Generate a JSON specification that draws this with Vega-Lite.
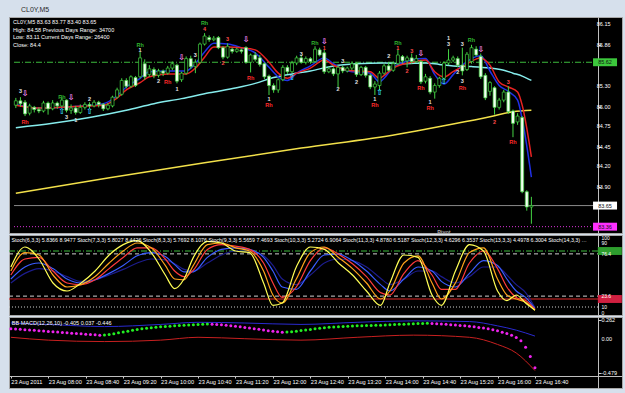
{
"$schema":"https://vega.github.io/schema/vega-lite/v6.json",
"background":"#d6e0ec",
"padding":{"left":7,"top":5,"right":5,"bottom":5},
"title":{"text":"CL0Y,M5","anchor":"start","fontSize":7,"font":"Liberation Sans","fontWeight":"normal","color":"#2a2a2a","dx":13,"offset":4},
"spacing":2,
"bounds":"flush",
"config":{"view":{"stroke":"#a8a8a8","strokeWidth":1,"fill":"#000000"},"axis":{"grid":false,"labelFont":"Liberation Sans","labelColor":"#ffffff","labelFontSize":5.5,"tickColor":"#cfcfcf","domainColor":"#bfbfbf","tickSize":3,"labelPadding":2,"labelOverlap":false},"title":{"font":"Liberation Sans","fontWeight":"normal"}},
"datasets":{
"c":[
{"t":"07:20","o":85.03,"h":85.13,"l":84.99,"c":85.09},{"t":"07:25","o":85.09,"h":85.14,"l":85.01,"c":85.05},{"t":"07:30","o":85.07,"h":85.10,"l":84.88,"c":84.91},{"t":"07:35","o":84.92,"h":85.05,"l":84.89,"c":85.02},{"t":"07:40","o":85.00,"h":85.02,"l":84.93,"c":84.97},{"t":"07:45","o":84.97,"h":85.00,"l":84.92,"c":84.95},{"t":"07:50","o":84.95,"h":85.09,"l":84.93,"c":85.06},{"t":"07:55","o":85.06,"h":85.08,"l":84.90,"c":84.98},{"t":"08:00","o":84.98,"h":85.10,"l":84.96,"c":85.06},{"t":"08:05","o":85.06,"h":85.08,"l":84.98,"c":85.02},
{"t":"08:10","o":85.02,"h":85.14,"l":85.00,"c":85.10},{"t":"08:15","o":85.10,"h":85.11,"l":84.93,"c":84.96},{"t":"08:20","o":84.96,"h":85.04,"l":84.91,"c":84.99},{"t":"08:25","o":84.99,"h":85.02,"l":84.90,"c":84.93},{"t":"08:30","o":84.93,"h":85.04,"l":84.91,"c":85.00},{"t":"08:35","o":85.00,"h":85.07,"l":84.97,"c":85.04},{"t":"08:40","o":85.04,"h":85.07,"l":84.99,"c":85.02},{"t":"08:45","o":85.02,"h":85.10,"l":85.00,"c":85.07},{"t":"08:50","o":85.07,"h":85.09,"l":85.00,"c":85.04},{"t":"08:55","o":85.04,"h":85.06,"l":84.95,"c":84.98},
{"t":"09:00","o":84.98,"h":85.06,"l":84.96,"c":85.03},{"t":"09:05","o":85.02,"h":85.16,"l":85.00,"c":85.14},{"t":"09:10","o":85.14,"h":85.27,"l":85.12,"c":85.24},{"t":"09:15","o":85.18,"h":85.40,"l":85.16,"c":85.37},{"t":"09:20","o":85.37,"h":85.40,"l":85.26,"c":85.29},{"t":"09:25","o":85.29,"h":85.44,"l":85.27,"c":85.42},{"t":"09:30","o":85.41,"h":85.43,"l":85.28,"c":85.30},{"t":"09:35","o":85.42,"h":85.76,"l":85.40,"c":85.68},{"t":"09:40","o":85.60,"h":85.66,"l":85.38,"c":85.42},{"t":"09:45","o":85.45,"h":85.58,"l":85.42,"c":85.53},
{"t":"09:50","o":85.52,"h":85.55,"l":85.40,"c":85.44},{"t":"09:55","o":85.44,"h":85.53,"l":85.41,"c":85.50},{"t":"10:00","o":85.50,"h":85.52,"l":85.43,"c":85.47},{"t":"10:05","o":85.47,"h":85.57,"l":85.45,"c":85.54},{"t":"10:10","o":85.54,"h":85.63,"l":85.51,"c":85.60},{"t":"10:15","o":85.58,"h":85.60,"l":85.33,"c":85.36},{"t":"10:20","o":85.38,"h":85.49,"l":85.35,"c":85.47},{"t":"10:25","o":85.47,"h":85.70,"l":85.45,"c":85.67},{"t":"10:30","o":85.67,"h":85.71,"l":85.53,"c":85.56},{"t":"10:35","o":85.56,"h":85.66,"l":85.47,"c":85.62},
{"t":"10:40","o":85.62,"h":85.89,"l":85.60,"c":85.87},{"t":"10:45","o":85.87,"h":86.02,"l":85.85,"c":85.98},{"t":"10:50","o":85.96,"h":85.99,"l":85.90,"c":85.93},{"t":"10:55","o":85.93,"h":85.98,"l":85.91,"c":85.95},{"t":"11:00","o":85.96,"h":85.98,"l":85.80,"c":85.82},{"t":"11:05","o":85.82,"h":85.84,"l":85.66,"c":85.69},{"t":"11:10","o":85.69,"h":85.88,"l":85.67,"c":85.84},{"t":"11:15","o":85.80,"h":85.82,"l":85.74,"c":85.77},{"t":"11:20","o":85.77,"h":85.82,"l":85.75,"c":85.80},{"t":"11:25","o":85.79,"h":85.81,"l":85.74,"c":85.77},
{"t":"11:30","o":85.82,"h":85.84,"l":85.60,"c":85.62},{"t":"11:35","o":85.62,"h":85.74,"l":85.48,"c":85.72},{"t":"11:40","o":85.72,"h":85.76,"l":85.63,"c":85.66},{"t":"11:45","o":85.68,"h":85.72,"l":85.56,"c":85.59},{"t":"11:50","o":85.60,"h":85.62,"l":85.39,"c":85.42},{"t":"11:55","o":85.43,"h":85.45,"l":85.17,"c":85.30},{"t":"12:00","o":85.30,"h":85.33,"l":85.20,"c":85.24},{"t":"12:05","o":85.24,"h":85.40,"l":85.20,"c":85.38},{"t":"12:10","o":85.38,"h":85.58,"l":85.36,"c":85.55},{"t":"12:15","o":85.55,"h":85.58,"l":85.46,"c":85.49},
{"t":"12:20","o":85.49,"h":85.64,"l":85.47,"c":85.61},{"t":"12:25","o":85.61,"h":85.71,"l":85.58,"c":85.68},{"t":"12:30","o":85.68,"h":85.72,"l":85.60,"c":85.62},{"t":"12:35","o":85.62,"h":85.70,"l":85.59,"c":85.67},{"t":"12:40","o":85.67,"h":85.69,"l":85.60,"c":85.63},{"t":"12:45","o":85.63,"h":85.84,"l":85.61,"c":85.80},{"t":"12:50","o":85.79,"h":85.82,"l":85.70,"c":85.72},{"t":"12:55","o":85.75,"h":85.79,"l":85.46,"c":85.49},{"t":"13:00","o":85.49,"h":85.56,"l":85.47,"c":85.53},{"t":"13:05","o":85.53,"h":85.55,"l":85.43,"c":85.46},
{"t":"13:10","o":85.46,"h":85.58,"l":85.28,"c":85.55},{"t":"13:15","o":85.55,"h":85.57,"l":85.47,"c":85.50},{"t":"13:20","o":85.50,"h":85.56,"l":85.48,"c":85.54},{"t":"13:25","o":85.54,"h":85.63,"l":85.51,"c":85.60},{"t":"13:30","o":85.60,"h":85.62,"l":85.42,"c":85.45},{"t":"13:35","o":85.45,"h":85.57,"l":85.43,"c":85.55},{"t":"13:40","o":85.55,"h":85.57,"l":85.41,"c":85.44},{"t":"13:45","o":85.44,"h":85.46,"l":85.25,"c":85.28},{"t":"13:50","o":85.28,"h":85.36,"l":85.17,"c":85.32},{"t":"13:55","o":85.30,"h":85.50,"l":85.23,"c":85.47},
{"t":"14:00","o":85.47,"h":85.60,"l":85.45,"c":85.57},{"t":"14:05","o":85.57,"h":85.62,"l":85.49,"c":85.51},{"t":"14:10","o":85.51,"h":85.63,"l":85.49,"c":85.60},{"t":"14:15","o":85.60,"h":85.80,"l":85.58,"c":85.72},{"t":"14:20","o":85.70,"h":85.72,"l":85.61,"c":85.64},{"t":"14:25","o":85.64,"h":85.71,"l":85.55,"c":85.68},{"t":"14:30","o":85.68,"h":85.74,"l":85.60,"c":85.63},{"t":"14:35","o":85.63,"h":85.72,"l":85.61,"c":85.67},{"t":"14:40","o":85.63,"h":85.65,"l":85.32,"c":85.35},{"t":"14:45","o":85.36,"h":85.46,"l":85.33,"c":85.42},
{"t":"14:50","o":85.40,"h":85.43,"l":85.18,"c":85.21},{"t":"14:55","o":85.21,"h":85.33,"l":85.12,"c":85.30},{"t":"15:00","o":85.30,"h":85.42,"l":85.27,"c":85.40},{"t":"15:05","o":85.40,"h":85.63,"l":85.38,"c":85.61},{"t":"15:10","o":85.61,"h":85.80,"l":85.58,"c":85.65},{"t":"15:15","o":85.65,"h":85.71,"l":85.62,"c":85.68},{"t":"15:20","o":85.67,"h":85.70,"l":85.55,"c":85.58},{"t":"15:25","o":85.58,"h":85.82,"l":85.44,"c":85.50},{"t":"15:30","o":85.52,"h":85.76,"l":85.50,"c":85.73},{"t":"15:35","o":85.63,"h":85.86,"l":85.60,"c":85.82},
{"t":"15:40","o":85.80,"h":85.84,"l":85.70,"c":85.72},{"t":"15:45","o":85.70,"h":85.74,"l":85.39,"c":85.42},{"t":"15:50","o":85.44,"h":85.47,"l":85.10,"c":85.13},{"t":"15:55","o":85.22,"h":85.36,"l":85.16,"c":85.34},{"t":"16:00","o":85.27,"h":85.29,"l":84.90,"c":85.00},{"t":"16:05","o":85.00,"h":85.13,"l":84.97,"c":85.10},{"t":"16:10","o":85.10,"h":85.24,"l":85.07,"c":85.21},{"t":"16:15","o":85.21,"h":85.29,"l":84.91,"c":84.94},{"t":"16:20","o":84.95,"h":84.97,"l":84.59,"c":84.78},{"t":"16:25","o":84.80,"h":84.92,"l":84.76,"c":84.88},
{"t":"16:30","o":84.86,"h":84.88,"l":83.82,"c":83.84},{"t":"16:35","o":83.84,"h":83.86,"l":83.58,"c":83.63},{"t":"16:40","o":83.63,"h":83.77,"l":83.40,"c":83.65}
],
"cy":[{"t":"07:20","p":84.72},{"t":"08:00","p":84.78},{"t":"08:40","p":84.86},{"t":"09:20","p":84.96},{"t":"09:50","p":85.05},{"t":"10:20","p":85.12},{"t":"10:50","p":85.20},{"t":"11:20","p":85.27},{"t":"11:40","p":85.33},{"t":"12:00","p":85.41},{"t":"12:20","p":85.46},{"t":"12:40","p":85.50},{"t":"13:05","p":85.57},{"t":"13:30","p":85.60},{"t":"14:00","p":85.61},{"t":"14:20","p":85.60},{"t":"14:45","p":85.61},{"t":"15:00","p":85.59},{"t":"15:15","p":85.57},{"t":"15:35","p":85.56},{"t":"15:55","p":85.54},{"t":"16:10","p":85.51},{"t":"16:20","p":85.47},{"t":"16:30","p":85.43},{"t":"16:40","p":85.37}],
"ye":[{"t":"07:20","p":83.82},{"t":"09:00","p":84.03},{"t":"10:45","p":84.24},{"t":"12:30","p":84.44},{"t":"14:15","p":84.63},{"t":"14:45","p":84.70},{"t":"15:15","p":84.77},{"t":"15:55","p":84.87},{"t":"16:20","p":84.94},{"t":"16:40","p":84.96}],
"rb":[{"t":"07:20","r":85.03,"b":85.04},{"t":"07:45","r":84.99,"b":84.99},{"t":"08:20","r":85.01,"b":85.01},{"t":"08:55","r":85.03,"b":85.05},{"t":"09:10","r":85.13,"b":85.16},{"t":"09:20","r":85.24,"b":85.28},{"t":"09:35","r":85.34,"b":85.40},{"t":"09:45","r":85.42,"b":85.49},{"t":"10:05","r":85.46,"b":85.50},{"t":"10:25","r":85.46,"b":85.50},{"t":"10:35","r":85.54,"b":85.60},{"t":"10:45","r":85.69,"b":85.76},{"t":"10:55","r":85.83,"b":85.88},{"t":"11:10","r":85.83,"b":85.87},{"t":"11:25","r":85.82,"b":85.82},{"t":"11:40","r":85.79,"b":85.75},{"t":"11:55","r":85.62,"b":85.55},{"t":"12:05","r":85.47,"b":85.42},{"t":"12:15","r":85.40,"b":85.37},{"t":"12:25","r":85.47,"b":85.47},{"t":"12:40","r":85.54,"b":85.57},{"t":"12:55","r":85.65,"b":85.68},{"t":"13:05","r":85.58,"b":85.60},{"t":"13:20","r":85.51,"b":85.50},{"t":"13:45","r":85.49,"b":85.47},{"t":"13:55","r":85.40,"b":85.35},{"t":"14:00","r":85.44,"b":85.40},{"t":"14:10","r":85.54,"b":85.55},{"t":"14:30","r":85.62,"b":85.65},{"t":"14:45","r":85.65,"b":85.67},{"t":"14:55","r":85.49,"b":85.45},{"t":"15:05","r":85.42,"b":85.32},{"t":"15:15","r":85.49,"b":85.45},{"t":"15:25","r":85.56,"b":85.58},{"t":"15:45","r":85.68,"b":85.71},{"t":"15:55","r":85.58,"b":85.50},{"t":"16:05","r":85.35,"b":85.30},{"t":"16:15","r":85.28,"b":85.22},{"t":"16:25","r":85.21,"b":85.10},{"t":"16:30","r":85.03,"b":84.84},{"t":"16:40","r":84.32,"b":84.04}],
"lv":[{"p":85.62,"k":"g"},{"p":83.65,"k":"w"},{"p":83.36,"k":"m"}],
"ya":[{"p":86.15},{"p":85.86},{"p":85.30},{"p":85.00},{"p":84.75},{"p":84.45},{"p":84.20},{"p":83.90}],
"sa":[{"v":100},{"v":90},{"v":76.4},{"v":23.6},{"v":10},{"v":0}],
"ma":[{"v":0.262,"s":"0.262"},{"v":0,"s":"0.00"},{"v":-0.479,"s":"-0.479"}],
"lb":[{"t":"07:25","p":85.23,"s":"3","k":"nw"},{"t":"07:30","p":84.80,"s":"Rh","k":"rr"},{"t":"08:10","p":85.14,"s":"Rh","k":"rg"},{"t":"08:15","p":84.87,"s":"3","k":"nw"},{"t":"08:25","p":84.82,"s":"1","k":"nw"},{"t":"08:40","p":85.12,"s":"2","k":"nw"},{"t":"09:35","p":85.86,"s":"Rh","k":"rg"},{"t":"09:35","p":85.79,"s":"1","k":"nw"},{"t":"09:55","p":85.36,"s":"2","k":"nw"},{"t":"10:05","p":85.35,"s":"Rh","k":"rr"},{"t":"10:15","p":85.25,"s":"1","k":"nw"},{"t":"10:35","p":85.72,"s":"3","k":"nw"},{"t":"10:45","p":86.16,"s":"Rh","k":"rg"},{"t":"10:45","p":86.08,"s":"4","k":"nr"},{"t":"11:10","p":85.94,"s":"3","k":"nr"},{"t":"11:05","p":85.61,"s":"2","k":"nr"},{"t":"11:35","p":85.40,"s":"Rh","k":"rr"},{"t":"11:55","p":85.12,"s":"1","k":"nw"},{"t":"11:55","p":85.03,"s":"Rh","k":"rr"},{"t":"12:30","p":85.74,"s":"3","k":"nw"},{"t":"12:45","p":85.88,"s":"Rh","k":"rg"},{"t":"12:55","p":85.81,"s":"1","k":"nr"},{"t":"13:10","p":85.25,"s":"2","k":"nw"},{"t":"13:15","p":85.64,"s":"3","k":"nw"},{"t":"13:30","p":85.35,"s":"2","k":"nw"},{"t":"13:50","p":85.12,"s":"1","k":"nw"},{"t":"13:50","p":85.03,"s":"Rh","k":"rr"},{"t":"14:05","p":85.70,"s":"2","k":"nw"},{"t":"14:15","p":85.89,"s":"Rh","k":"rg"},{"t":"14:15","p":85.82,"s":"1","k":"nr"},{"t":"14:30","p":85.78,"s":"3","k":"nr"},{"t":"14:25","p":85.50,"s":"2","k":"nr"},{"t":"14:40","p":85.27,"s":"Rh","k":"rr"},{"t":"14:50","p":85.07,"s":"1","k":"nw"},{"t":"14:50","p":84.99,"s":"Rh","k":"rr"},{"t":"15:10","p":85.95,"s":"1","k":"nw"},{"t":"15:10","p":85.87,"s":"3","k":"nw"},{"t":"15:20","p":85.49,"s":"2","k":"nw"},{"t":"15:25","p":85.87,"s":"3","k":"nw"},{"t":"15:25","p":85.36,"s":"3","k":"nw"},{"t":"15:25","p":85.27,"s":"Rh","k":"rr"},{"t":"15:35","p":85.92,"s":"Rh","k":"rg"},{"t":"16:15","p":85.35,"s":"3","k":"nr"},{"t":"16:00","p":84.80,"s":"2","k":"nr"},{"t":"16:20","p":84.52,"s":"Rh","k":"rr"},{"t":"15:05","p":83.29,"s":"Pivot","k":"pv"}],
"ar":[{"t":"07:30","p":85.18,"k":"d"},{"t":"08:10","p":84.93,"k":"u"},{"t":"08:20","p":85.13,"k":"d"},{"t":"08:40","p":84.93,"k":"u"},{"t":"10:20","p":85.68,"k":"d"},{"t":"11:30","p":85.93,"k":"d"},{"t":"12:20","p":85.40,"k":"u"},{"t":"12:55","p":85.90,"k":"d"},{"t":"13:55","p":85.20,"k":"u"},{"t":"14:40","p":85.73,"k":"d"},{"t":"15:05","p":85.35,"k":"u"},{"t":"15:45","p":85.79,"k":"d"}],
"st":[{"t":"07:20","Y":60,"O":55,"R":50,"B":45,"N":40},{"t":"07:35","Y":85,"O":78,"R":70,"B":60,"N":52},{"t":"07:50","Y":70,"O":75,"R":72,"B":65,"N":58},{"t":"08:05","Y":40,"O":50,"R":55,"B":58,"N":55},{"t":"08:20","Y":30,"O":35,"R":40,"B":45,"N":48},{"t":"08:35","Y":40,"O":38,"R":38,"B":40,"N":42},{"t":"08:50","Y":55,"O":48,"R":44,"B":44,"N":44},{"t":"09:05","Y":75,"O":65,"R":58,"B":52,"N":50},{"t":"09:20","Y":88,"O":80,"R":72,"B":62,"N":57},{"t":"09:35","Y":93,"O":90,"R":84,"B":74,"N":65},{"t":"09:50","Y":78,"O":84,"R":84,"B":78,"N":70},{"t":"10:05","Y":50,"O":62,"R":70,"B":73,"N":69},{"t":"10:15","Y":33,"O":45,"R":55,"B":63,"N":64},{"t":"10:25","Y":45,"O":44,"R":48,"B":54,"N":57},{"t":"10:35","Y":72,"O":62,"R":56,"B":54,"N":55},{"t":"10:50","Y":92,"O":88,"R":82,"B":72,"N":65},{"t":"11:05","Y":90,"O":90,"R":88,"B":82,"N":75},{"t":"11:20","Y":80,"O":84,"R":86,"B":84,"N":80},{"t":"11:35","Y":78,"O":80,"R":82,"B":82,"N":80},{"t":"11:50","Y":40,"O":55,"R":65,"B":72,"N":74},{"t":"12:00","Y":12,"O":25,"R":40,"B":55,"N":62},{"t":"12:10","Y":15,"O":15,"R":22,"B":35,"N":45},{"t":"12:25","Y":60,"O":45,"R":35,"B":32,"N":38},{"t":"12:40","Y":85,"O":78,"R":68,"B":55,"N":50},{"t":"12:55","Y":82,"O":85,"R":84,"B":75,"N":65},{"t":"13:10","Y":65,"O":72,"R":76,"B":76,"N":70},{"t":"13:25","Y":50,"O":58,"R":64,"B":68,"N":68},{"t":"13:40","Y":30,"O":40,"R":48,"B":55,"N":60},{"t":"13:55","Y":12,"O":20,"R":28,"B":38,"N":46},{"t":"14:05","Y":40,"O":30,"R":25,"B":30,"N":38},{"t":"14:20","Y":75,"O":65,"R":52,"B":45,"N":45},{"t":"14:35","Y":72,"O":74,"R":68,"B":60,"N":55},{"t":"14:50","Y":25,"O":40,"R":50,"B":55,"N":55},{"t":"15:00","Y":12,"O":20,"R":32,"B":42,"N":48},{"t":"15:15","Y":55,"O":40,"R":32,"B":35,"N":40},{"t":"15:30","Y":88,"O":78,"R":65,"B":52,"N":48},{"t":"15:45","Y":80,"O":84,"R":80,"B":68,"N":60},{"t":"16:00","Y":30,"O":45,"R":58,"B":62,"N":60},{"t":"16:10","Y":18,"O":25,"R":35,"B":45,"N":50},{"t":"16:20","Y":25,"O":20,"R":22,"B":30,"N":38},{"t":"16:30","Y":15,"O":16,"R":18,"B":22,"N":28},{"t":"16:40","Y":6,"O":6,"R":7,"B":8,"N":9}],
"sl":[{"v":80,"k":"g"},{"v":76.4,"k":"w"},{"v":23.6,"k":"w"},{"v":20,"k":"r"},{"v":10,"k":"d"}],
"sb":[{"v":80,"k":"g"},{"v":20,"k":"r"}],
"md":[{"t":"07:20","v":0.140,"s":"dn"},{"t":"07:25","v":0.136,"s":"dn"},{"t":"07:30","v":0.132,"s":"dn"},{"t":"07:35","v":0.127,"s":"dn"},{"t":"07:40","v":0.122,"s":"dn"},{"t":"07:45","v":0.117,"s":"dn"},{"t":"07:50","v":0.112,"s":"dn"},{"t":"07:55","v":0.107,"s":"dn"},{"t":"08:00","v":0.102,"s":"dn"},{"t":"08:05","v":0.097,"s":"dn"},{"t":"08:10","v":0.093,"s":"dn"},{"t":"08:15","v":0.088,"s":"dn"},{"t":"08:20","v":0.083,"s":"dn"},{"t":"08:25","v":0.078,"s":"dn"},{"t":"08:30","v":0.073,"s":"dn"},{"t":"08:35","v":0.068,"s":"dn"},{"t":"08:40","v":0.063,"s":"dn"},{"t":"08:45","v":0.058,"s":"dn"},{"t":"08:50","v":0.054,"s":"dn"},{"t":"08:55","v":0.050,"s":"dn"},
{"t":"09:00","v":0.052,"s":"up"},{"t":"09:05","v":0.060,"s":"up"},{"t":"09:10","v":0.070,"s":"up"},{"t":"09:15","v":0.082,"s":"up"},{"t":"09:20","v":0.094,"s":"up"},{"t":"09:25","v":0.106,"s":"up"},{"t":"09:30","v":0.118,"s":"up"},{"t":"09:35","v":0.130,"s":"up"},{"t":"09:40","v":0.140,"s":"up"},{"t":"09:45","v":0.148,"s":"up"},{"t":"09:50","v":0.155,"s":"up"},{"t":"09:55","v":0.161,"s":"up"},{"t":"10:00","v":0.166,"s":"up"},{"t":"10:05","v":0.171,"s":"up"},{"t":"10:10","v":0.176,"s":"up"},{"t":"10:15","v":0.180,"s":"up"},{"t":"10:20","v":0.184,"s":"up"},{"t":"10:25","v":0.188,"s":"up"},{"t":"10:30","v":0.192,"s":"up"},{"t":"10:35","v":0.196,"s":"up"},{"t":"10:40","v":0.200,"s":"up"},{"t":"10:45","v":0.204,"s":"up"},{"t":"10:50","v":0.206,"s":"up"},
{"t":"10:55","v":0.204,"s":"dn"},{"t":"11:00","v":0.200,"s":"dn"},{"t":"11:05","v":0.195,"s":"dn"},{"t":"11:10","v":0.189,"s":"dn"},{"t":"11:15","v":0.182,"s":"dn"},{"t":"11:20","v":0.175,"s":"dn"},{"t":"11:25","v":0.167,"s":"dn"},{"t":"11:30","v":0.158,"s":"dn"},{"t":"11:35","v":0.149,"s":"dn"},{"t":"11:40","v":0.140,"s":"dn"},{"t":"11:45","v":0.131,"s":"dn"},{"t":"11:50","v":0.122,"s":"dn"},{"t":"11:55","v":0.113,"s":"dn"},{"t":"12:00","v":0.104,"s":"dn"},{"t":"12:05","v":0.097,"s":"dn"},{"t":"12:10","v":0.092,"s":"dn"},
{"t":"12:15","v":0.094,"s":"up"},{"t":"12:20","v":0.099,"s":"up"},{"t":"12:25","v":0.106,"s":"up"},{"t":"12:30","v":0.114,"s":"up"},{"t":"12:35","v":0.122,"s":"up"},{"t":"12:40","v":0.130,"s":"up"},{"t":"12:45","v":0.138,"s":"up"},{"t":"12:50","v":0.146,"s":"up"},{"t":"12:55","v":0.153,"s":"up"},{"t":"13:00","v":0.159,"s":"up"},{"t":"13:05","v":0.164,"s":"up"},{"t":"13:10","v":0.168,"s":"up"},{"t":"13:15","v":0.172,"s":"up"},{"t":"13:20","v":0.175,"s":"up"},{"t":"13:25","v":0.178,"s":"up"},{"t":"13:30","v":0.180,"s":"up"},{"t":"13:35","v":0.182,"s":"up"},{"t":"13:40","v":0.184,"s":"up"},{"t":"13:45","v":0.186,"s":"up"},{"t":"13:50","v":0.188,"s":"up"},{"t":"13:55","v":0.190,"s":"up"},{"t":"14:00","v":0.192,"s":"up"},{"t":"14:05","v":0.195,"s":"up"},{"t":"14:10","v":0.198,"s":"up"},{"t":"14:15","v":0.201,"s":"up"},{"t":"14:20","v":0.204,"s":"up"},{"t":"14:25","v":0.207,"s":"up"},{"t":"14:30","v":0.210,"s":"up"},{"t":"14:35","v":0.212,"s":"up"},{"t":"14:40","v":0.214,"s":"up"},{"t":"14:45","v":0.215,"s":"up"},
{"t":"14:50","v":0.214,"s":"dn"},{"t":"14:55","v":0.211,"s":"dn"},{"t":"15:00","v":0.207,"s":"dn"},{"t":"15:05","v":0.202,"s":"dn"},{"t":"15:10","v":0.197,"s":"dn"},{"t":"15:15","v":0.192,"s":"dn"},{"t":"15:20","v":0.186,"s":"dn"},{"t":"15:25","v":0.180,"s":"dn"},{"t":"15:30","v":0.173,"s":"dn"},{"t":"15:35","v":0.166,"s":"dn"},{"t":"15:40","v":0.158,"s":"dn"},{"t":"15:45","v":0.149,"s":"dn"},{"t":"15:50","v":0.138,"s":"dn"},{"t":"15:55","v":0.125,"s":"dn"},{"t":"16:00","v":0.110,"s":"dn"},{"t":"16:05","v":0.092,"s":"dn"},{"t":"16:10","v":0.072,"s":"dn"},{"t":"16:15","v":0.048,"s":"dn"},{"t":"16:20","v":0.018,"s":"dn"},{"t":"16:25","v":-0.030,"s":"dn"},{"t":"16:30","v":-0.120,"s":"dn"},{"t":"16:35","v":-0.250,"s":"dn"},{"t":"16:40","v":-0.405,"s":"dn"}],
"mb":[{"t":"07:20","u":0.22,"d":0.02},{"t":"08:00","u":0.20,"d":-0.02},{"t":"09:00","u":0.17,"d":-0.04},{"t":"10:00","u":0.20,"d":-0.02},{"t":"10:40","u":0.23,"d":0.02},{"t":"11:30","u":0.22,"d":0.0},{"t":"12:30","u":0.20,"d":-0.02},{"t":"13:30","u":0.23,"d":0.02},{"t":"14:30","u":0.25,"d":0.05},{"t":"15:30","u":0.24,"d":0.02},{"t":"16:00","u":0.18,"d":-0.08},{"t":"16:20","u":0.12,"d":-0.20},{"t":"16:40","u":0.037,"d":-0.446}]
},
"vconcat":[
{
"width":613,"height":216,
"title":{"text":["CL0Y,M5  83.63 83.77 83.40 83.65","High: 84.58     Previous Days Range: 34700","Low: 83.11      Current Days Range: 26400","Close: 84.4"],"anchor":"start","orient":"top","offset":-31,"fontSize":5.5,"color":"#ffffff","dx":4,"lineHeight":7.5},
"resolve":{"scale":{"color":"independent","strokeDash":"independent","fill":"independent"}},
"layer":[
{"data":{"name":"lv"},"mark":{"type":"rule","strokeWidth":1},
"encoding":{"x":{"datum":{"year":1900,"month":1,"date":1,"hours":7,"minutes":18},"type":"temporal","scale":{"domain":[{"year":1900,"month":1,"date":1,"hours":7,"minutes":18},{"year":1900,"month":1,"date":1,"hours":18,"minutes":13}]},"axis":null},
"x2":{"datum":{"year":1900,"month":1,"date":1,"hours":17,"minutes":48}},
"y":{"field":"p","type":"quantitative","title":null,"scale":{"domain":[83.273,86.242],"zero":false,"nice":false},"axis":{"orient":"right","offset":-24,"values":[86.15,85.86,85.3,85,84.75,84.45,84.2,83.9],"labels":false}},
"color":{"field":"k","type":"nominal","scale":{"domain":["g","w","m"],"range":["#3dbb3d","#8a8a8a","#dd33dd"]},"legend":null},
"strokeDash":{"field":"k","type":"nominal","scale":{"domain":["g","w","m"],"range":[[6,2,1,2],[1,0],[1,2]]},"legend":null}}},
{"data":{"name":"ye","format":{"parse":{"t":"date:'%H:%M'"}}},"mark":{"type":"line","color":"#f2e04a","strokeWidth":1.5,"interpolate":"monotone"},"encoding":{"x":{"field":"t","type":"temporal"},"y":{"field":"p","type":"quantitative","title":null}}},
{"data":{"name":"cy","format":{"parse":{"t":"date:'%H:%M'"}}},"mark":{"type":"line","color":"#86ecec","strokeWidth":1.5,"interpolate":"monotone"},"encoding":{"x":{"field":"t","type":"temporal"},"y":{"field":"p","type":"quantitative","title":null}}},
{"data":{"name":"rb","format":{"parse":{"t":"date:'%H:%M'"}}},"layer":[
{"mark":{"type":"line","color":"#2030e6","strokeWidth":1.5,"interpolate":"monotone"},"encoding":{"x":{"field":"t","type":"temporal"},"y":{"field":"b","type":"quantitative","title":null}}},
{"mark":{"type":"line","color":"#e82222","strokeWidth":1.5,"interpolate":"monotone"},"encoding":{"x":{"field":"t","type":"temporal"},"y":{"field":"r","type":"quantitative","title":null}}}]},
{"data":{"name":"c","format":{"parse":{"t":"date:'%H:%M'"}}},"layer":[
{"mark":{"type":"rule","color":"#44d444","strokeWidth":1},"encoding":{"x":{"field":"t","type":"temporal"},"y":{"field":"l","type":"quantitative","title":null},"y2":{"field":"h"}}},
{"mark":{"type":"bar","size":3,"stroke":"#44d444","strokeWidth":0.7},"encoding":{"x":{"field":"t","type":"temporal"},"y":{"field":"o","type":"quantitative","title":null},"y2":{"field":"c"},"fill":{"condition":{"test":"datum.c < datum.o","value":"#f2fff2"},"value":"#000000"}}}]},
{"data":{"name":"lb","format":{"parse":{"t":"date:'%H:%M'"}}},"mark":{"type":"text","fontSize":5.5,"fontWeight":"bold","font":"Liberation Sans"},"encoding":{"x":{"field":"t","type":"temporal"},"y":{"field":"p","type":"quantitative","title":null},"text":{"field":"s"},"color":{"field":"k","type":"nominal","scale":{"domain":["rr","rg","nw","nr","pv"],"range":["#ff2a2a","#2fb52f","#e0e0e0","#ff4a4a","#a8a8a8"]},"legend":null}}},
{"data":{"name":"ar","format":{"parse":{"t":"date:'%H:%M'"}}},"mark":{"type":"text","fontSize":8,"fontWeight":"bold","font":"DejaVu Sans"},"encoding":{"x":{"field":"t","type":"temporal"},"y":{"field":"p","type":"quantitative","title":null},"text":{"condition":{"test":"datum.k == 'd'","value":"⇩"},"value":"⇧"},"color":{"field":"k","type":"nominal","scale":{"domain":["d","u"],"range":["#ff8cff","#33ddff"]},"legend":null}}},
{"data":{"name":"ya"},"mark":{"type":"text","align":"left","fontSize":5.5,"color":"#ffffff","font":"Liberation Sans"},"encoding":{"x":{"datum":{"year":1900,"month":1,"date":1,"hours":17,"minutes":51},"type":"temporal"},"y":{"field":"p","type":"quantitative","title":null},"text":{"field":"p","type":"quantitative","format":".2f"}}},
{"data":{"name":"lv"},"mark":{"type":"point","filled":true,"opacity":1,"shape":"M-1,-0.33H1V0.33H-1Z","size":576},"encoding":{"x":{"datum":{"year":1900,"month":1,"date":1,"hours":18,"minutes":0},"type":"temporal"},"y":{"field":"p","type":"quantitative","title":null},"fill":{"field":"k","type":"nominal","scale":{"domain":["g","w","m"],"range":["#3cc83c","#ffffff","#ff30ff"]},"legend":null}}},
{"data":{"name":"lv"},"mark":{"type":"text","fontSize":5.5,"color":"#111111","font":"Liberation Sans"},"encoding":{"x":{"datum":{"year":1900,"month":1,"date":1,"hours":18,"minutes":0},"type":"temporal"},"y":{"field":"p","type":"quantitative","title":null},"text":{"field":"p","type":"quantitative","format":".2f"}}}
]
},
{
"width":613,"height":80,
"title":{"text":"Stoch(6,3,3) 5.8366 8.9477  Stoch(7,3,3) 5.8027 8.4426  Stoch(8,3,3) 5.7692 8.1076  Stoch(9,3,3) 5.5659 7.4693  Stoch(10,3,3) 5.2724 6.9064  Stoch(11,3,3) 4.8780 6.5187  Stoch(12,3,3) 4.6296 6.3537  Stoch(13,3,3) 4.4978 6.3004  Stoch(14,3,3) 4.3712 6.2801","anchor":"start","orient":"top","offset":-9,"fontSize":5.3,"color":"#ffffff","dx":3,"limit":588},
"resolve":{"scale":{"color":"independent","strokeDash":"independent","fill":"independent"}},
"layer":[
{"data":{"name":"sl"},"mark":{"type":"rule","strokeWidth":1},
"encoding":{"x":{"datum":{"year":1900,"month":1,"date":1,"hours":7,"minutes":18},"type":"temporal","scale":{"domain":[{"year":1900,"month":1,"date":1,"hours":7,"minutes":18},{"year":1900,"month":1,"date":1,"hours":18,"minutes":13}]},"axis":null},
"x2":{"datum":{"year":1900,"month":1,"date":1,"hours":17,"minutes":48}},
"y":{"field":"v","type":"quantitative","title":null,"scale":{"domain":[0,100],"nice":false},"axis":{"orient":"right","offset":-24,"values":[100,90,76.4,23.6,10,0],"labels":false}},
"color":{"field":"k","type":"nominal","scale":{"domain":["g","w","r","d"],"range":["#3dbb3d","#d0d0d0","#e02828","#d0d0d0"]},"legend":null},
"strokeDash":{"field":"k","type":"nominal","scale":{"domain":["g","w","r","d"],"range":[[6,2,1,2],[4,3],[1,0],[1,2]]},"legend":null}}},
{"data":{"name":"st","format":{"parse":{"t":"date:'%H:%M'"}}},"transform":[{"fold":["N","B","R","O","Y"],"as":["s","v"]}],"mark":{"type":"line","strokeWidth":1.2,"interpolate":"monotone"},"encoding":{"x":{"field":"t","type":"temporal"},"y":{"field":"v","type":"quantitative","title":null},"color":{"field":"s","type":"nominal","scale":{"domain":["N","B","R","O","Y"],"range":["#1c1c8c","#3a5cff","#ff3b3b","#ffa31a","#ffff55"]},"legend":null}}},
{"data":{"name":"sb"},"mark":{"type":"point","filled":true,"opacity":1,"shape":"M-1,-0.33H1V0.33H-1Z","size":576},"encoding":{"x":{"datum":{"year":1900,"month":1,"date":1,"hours":18,"minutes":0},"type":"temporal"},"y":{"field":"v","type":"quantitative","title":null},"fill":{"field":"k","type":"nominal","scale":{"domain":["g","r"],"range":["#2e9e2e","#d02040"]},"legend":null}}},
{"data":{"name":"sa"},"transform":[{"filter":"datum.v > 0 && datum.v < 100"}],"mark":{"type":"text","align":"left","fontSize":5,"color":"#ffffff","font":"Liberation Sans"},"encoding":{"x":{"datum":{"year":1900,"month":1,"date":1,"hours":17,"minutes":51},"type":"temporal"},"y":{"field":"v","type":"quantitative","title":null},"text":{"field":"v","type":"quantitative","format":"~g"}}},
{"data":{"name":"sa"},"transform":[{"filter":"datum.v == 100"}],"mark":{"type":"text","align":"left","baseline":"top","dy":1,"fontSize":5,"color":"#ffffff","font":"Liberation Sans"},"encoding":{"x":{"datum":{"year":1900,"month":1,"date":1,"hours":17,"minutes":51},"type":"temporal"},"y":{"field":"v","type":"quantitative","title":null},"text":{"field":"v","type":"quantitative","format":"~g"}}},
{"data":{"name":"sa"},"transform":[{"filter":"datum.v == 0"}],"mark":{"type":"text","align":"left","baseline":"bottom","dy":1,"fontSize":5,"color":"#ffffff","font":"Liberation Sans"},"encoding":{"x":{"datum":{"year":1900,"month":1,"date":1,"hours":17,"minutes":51},"type":"temporal"},"y":{"field":"v","type":"quantitative","title":null},"text":{"field":"v","type":"quantitative","format":"~g"}}}
]
},
{
"width":613,"height":71,
"title":{"text":"BB MACD(12,26,10) -0.405 0.037 -0.446","anchor":"start","orient":"top","offset":-9,"fontSize":5.5,"color":"#ffffff","dx":3},
"resolve":{"scale":{"color":"independent"}},
"layer":[
{"data":{"name":"mb","format":{"parse":{"t":"date:'%H:%M'"}}},"layer":[
{"mark":{"type":"line","color":"#2a2ad0","strokeWidth":1,"interpolate":"monotone"},
"encoding":{"x":{"field":"t","type":"temporal","scale":{"domain":[{"year":1900,"month":1,"date":1,"hours":7,"minutes":18},{"year":1900,"month":1,"date":1,"hours":18,"minutes":13}]},
"axis":{"orient":"bottom","offset":-12,"tickSize":2,"labelAlign":"left","labelPadding":1,"labelFontSize":5.6,"labelFlush":false,"labelOverlap":false,
"values":[{"year":1900,"month":1,"date":1,"hours":7,"minutes":20},{"year":1900,"month":1,"date":1,"hours":8,"minutes":0},{"year":1900,"month":1,"date":1,"hours":8,"minutes":40},{"year":1900,"month":1,"date":1,"hours":9,"minutes":20},{"year":1900,"month":1,"date":1,"hours":10,"minutes":0},{"year":1900,"month":1,"date":1,"hours":10,"minutes":40},{"year":1900,"month":1,"date":1,"hours":11,"minutes":20},{"year":1900,"month":1,"date":1,"hours":12,"minutes":0},{"year":1900,"month":1,"date":1,"hours":12,"minutes":40},{"year":1900,"month":1,"date":1,"hours":13,"minutes":20},{"year":1900,"month":1,"date":1,"hours":14,"minutes":0},{"year":1900,"month":1,"date":1,"hours":14,"minutes":40},{"year":1900,"month":1,"date":1,"hours":15,"minutes":20},{"year":1900,"month":1,"date":1,"hours":16,"minutes":0},{"year":1900,"month":1,"date":1,"hours":16,"minutes":40}],
"labelExpr":"hours(datum.value) == 7 ? '23 Aug 2011' : '23 Aug ' + timeFormat(datum.value, '%H:%M')","title":null}},
"y":{"field":"u","type":"quantitative","title":null,"scale":{"domain":[-0.69,0.304],"nice":false,"zero":false},"axis":{"orient":"right","offset":-24,"values":[0.262,0,-0.479],"labels":false}}}},
{"mark":{"type":"line","color":"#c82020","strokeWidth":1,"interpolate":"monotone"},"encoding":{"x":{"field":"t","type":"temporal"},"y":{"field":"d","type":"quantitative","title":null}}}]},
{"data":{"name":"md","format":{"parse":{"t":"date:'%H:%M'"}}},"mark":{"type":"point","filled":true,"opacity":1,"size":9},"encoding":{"x":{"field":"t","type":"temporal"},"y":{"field":"v","type":"quantitative","title":null},"color":{"field":"s","type":"nominal","scale":{"domain":["up","dn"],"range":["#22ee22","#ee22ee"]},"legend":null}}},
{"data":{"name":"ma"},"mark":{"type":"text","align":"left","fontSize":5.5,"color":"#ffffff","font":"Liberation Sans"},"encoding":{"x":{"datum":{"year":1900,"month":1,"date":1,"hours":17,"minutes":51},"type":"temporal"},"y":{"field":"v","type":"quantitative","title":null},"text":{"field":"s"}}}
]
}
]
}
